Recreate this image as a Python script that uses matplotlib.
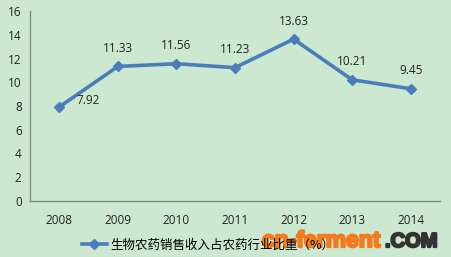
import matplotlib
matplotlib.use("Agg")
import matplotlib.pyplot as plt
import matplotlib.patheffects as pe
from matplotlib.lines import Line2D

years = ["2008", "2009", "2010", "2011", "2012", "2013", "2014"]
values = [7.92, 11.33, 11.56, 11.23, 13.63, 10.21, 9.45]
yticks = [0, 2, 4, 6, 8, 10, 12, 14, 16]
series_name = "生物农药销售收入占农药行业比重（%）"

bg = "#cde8d0"
line_c = "#4a7ebb"

plt.rcParams['font.family'] = ['Open Sans', 'Noto Sans CJK SC', 'DejaVu Sans']

fig = plt.figure(figsize=(4.52, 2.57), dpi=100, facecolor=bg)
ax = fig.add_axes([30/452, 1-201/257, 410/452, 190/257])
ax.set_facecolor(bg)

x = list(range(len(years)))
ax.plot(x, values, color=line_c, lw=2.6, marker='D', ms=5, mec=line_c, mfc=line_c)
ax.set_xlim(-0.5, len(years)-0.5)
ax.set_ylim(0, 16)
ax.set_yticks(yticks)
ax.set_xticks(x)
ax.set_xticklabels(years)
ax.tick_params(length=0, labelsize=8.5, colors="#222222")
ax.tick_params(axis='y', pad=6)
ax.tick_params(axis='x', pad=9)
for s in ['top', 'right']:
    ax.spines[s].set_visible(False)
for s in ['left', 'bottom']:
    ax.spines[s].set_color("#7f8f85")
    ax.spines[s].set_linewidth(1)

for i, v in enumerate(values):
    if i == 0:
        ax.annotate(f"{v:.2f}", (i, v), xytext=(29, 6), textcoords='offset pixels',
                    ha='center', va='center', fontsize=8.5, color="#222222")
    else:
        ax.annotate(f"{v:.2f}", (i, v), xytext=(0, 18), textcoords='offset pixels',
                    ha='center', va='center', fontsize=8.5, color="#222222")

handle = Line2D([0], [0], color=line_c, lw=2.6, marker='D', ms=5)
fig.legend([handle], [series_name], loc='center left', bbox_to_anchor=(82/452, 1-245/257),
           frameon=False, handlelength=2.0, handletextpad=0.25, borderpad=0, borderaxespad=0,
           prop={'family': ['Noto Sans CJK SC', 'DejaVu Sans'], 'size': 9})

orange = "#f57a1c"
dark = "#333333"
fig.text(262/452, 1-247/257, "cn-ferment", color=orange, fontsize=16.5, fontweight='bold',
         family='Liberation Sans', ha='left', va='baseline',
         path_effects=[pe.withStroke(linewidth=1.6, foreground=orange)])
fig.text(385/452, 1-247/257, ".COM", color=dark, fontsize=14.5, fontweight='bold',
         family='Liberation Sans', ha='left', va='baseline',
         path_effects=[pe.withStroke(linewidth=1.6, foreground=dark)])

fig.savefig("out.png", dpi=100, facecolor=bg)
